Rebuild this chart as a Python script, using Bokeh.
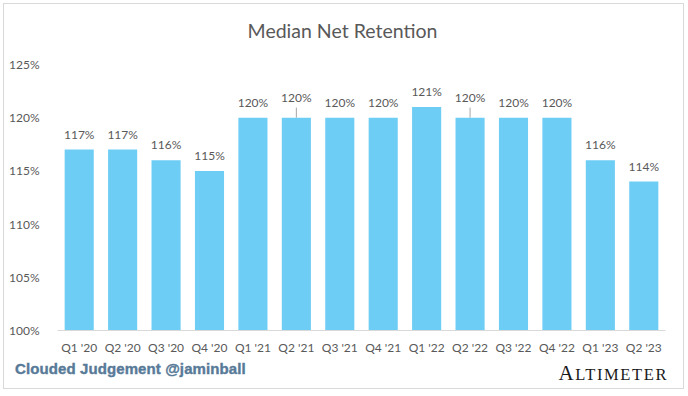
from bokeh.plotting import figure
from bokeh.layouts import column
from bokeh.models import ColumnDataSource, PrintfTickFormatter, FactorRange, Range1d, Div
from bokeh.core.properties import value
from bokeh.embed import file_html
from bokeh.resources import INLINE

quarters = ["Q1 '20", "Q2 '20", "Q3 '20", "Q4 '20", "Q1 '21", "Q2 '21", "Q3 '21",
            "Q4 '21", "Q1 '22", "Q2 '22", "Q3 '22", "Q4 '22", "Q1 '23", "Q2 '23"]
retention = [117, 117, 116, 115, 120, 120, 120, 120, 121, 120, 120, 120, 116, 114]
y_ticks = [100, 105, 110, 115, 120, 125]

FONT = "Lato"
GRAY = "#595959"
BAR = "#6DCDF5"
W = 679

# labels with a leader line are lifted a little
lifted = {"Q2 '21", "Q2 '22"}

header = Div(width=W, height=48, margin=0, text=(
    f'<div style="position:relative;width:{W}px;height:48px;">'
    f'<div style="position:absolute;left:0;top:15px;width:{W - 2}px;text-align:center;'
    f'line-height:24px;font-family:{FONT};font-size:19.5px;color:{GRAY};">Median Net Retention</div>'
    '</div>'))

p = figure(width=W, height=306, x_range=FactorRange(*quarters), y_range=Range1d(100, 125),
           output_backend="svg", toolbar_location=None,
           min_border_left=53, min_border_right=18, min_border_top=12, min_border_bottom=28)
p.margin = 0
p.outline_line_color = None
p.background_fill_color = "white"
p.border_fill_color = "white"

src = ColumnDataSource(dict(q=quarters, v=retention, lab=[f"{v}%" for v in retention],
                            off=[-13 if q in lifted else -8 for q in quarters]))
p.vbar(x="q", top="v", bottom=100, width=0.67, source=src, fill_color=BAR, line_color=None)

lift_src = ColumnDataSource(dict(q=[q for q in quarters if q in lifted],
                                 v=[v for q, v in zip(quarters, retention) if q in lifted]))
lift_src.data["v1"] = [v + 0.95 for v in lift_src.data["v"]]
p.segment(x0="q", y0="v", x1="q", y1="v1", source=lift_src, line_color="#A6A6A6", line_width=1)

p.text(x="q", y="v", text="lab", source=src, y_offset="off", text_align="center",
       text_baseline="bottom", text_font=value(FONT), text_font_size="12px", text_color=GRAY)

p.xgrid.grid_line_color = None
p.ygrid.grid_line_color = None

p.xaxis.axis_line_color = "#D9D9D9"
p.xaxis.major_tick_line_color = None
p.xaxis.minor_tick_line_color = None
p.xaxis.major_label_text_font = FONT
p.xaxis.major_label_text_font_size = "12px"
p.xaxis.major_label_text_color = GRAY
p.xaxis.major_label_standoff = 3

p.yaxis.ticker = y_ticks
p.yaxis.formatter = PrintfTickFormatter(format="%d%%")
p.yaxis.axis_line_color = None
p.yaxis.major_tick_line_color = None
p.yaxis.minor_tick_line_color = None
p.yaxis.major_label_text_font = FONT
p.yaxis.major_label_text_font_size = "12px"
p.yaxis.major_label_text_color = GRAY
p.yaxis.major_label_standoff = 12

footer = Div(width=W, height=30, margin=0, text=(
    f'<div style="position:relative;width:{W}px;height:30px;">'
    '<div style="position:absolute;left:11px;top:3px;line-height:16px;font-family:\'Liberation Sans\';'
    'font-weight:bold;font-size:15px;color:#587A98;-webkit-text-stroke:0.4px #587A98;'
    'letter-spacing:0.1px;white-space:nowrap;">Clouded Judgement @jaminball</div>'
    '<div style="position:absolute;right:15px;bottom:4px;line-height:1;font-family:\'Liberation Serif\';'
    'color:#1A1A1A;white-space:nowrap;letter-spacing:1.6px;">'
    '<span style="font-size:21px;">A</span><span style="font-size:16.5px;">LTIMETER</span></div>'
    '</div>'))

layout = column(header, p, footer, spacing=0)
layout.margin = (4, 0, 0, 4)
layout.styles = {"outline": "1px solid #D9D9D9"}

open("out.html", "w").write(file_html(layout, INLINE))
